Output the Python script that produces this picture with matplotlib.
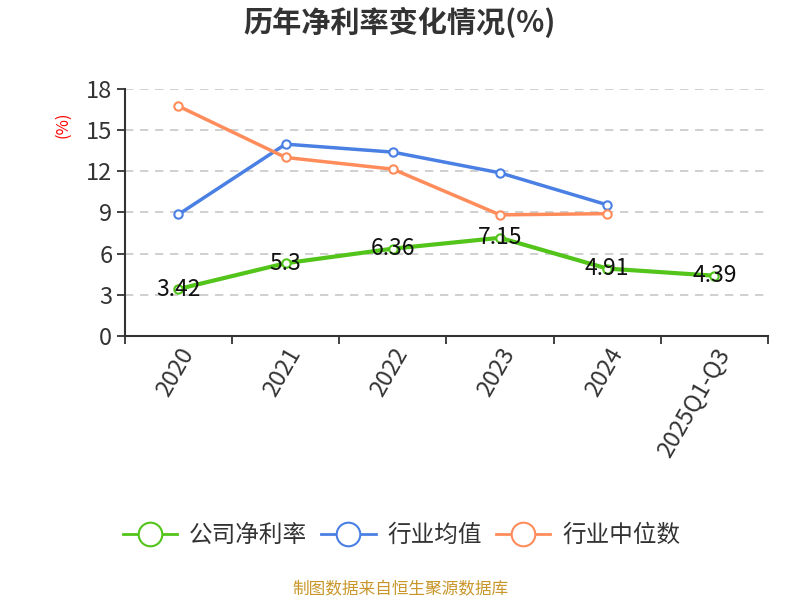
import numpy as np
import matplotlib
matplotlib.use('Agg')
import matplotlib.pyplot as plt
from matplotlib.lines import Line2D

plt.rcParams['font.family'] = ['Noto Sans CJK SC', 'DejaVu Sans']

years = ['2020', '2021', '2022', '2023', '2024', '2025Q1-Q3']
company = [3.42, 5.3, 6.36, 7.15, 4.91, 4.39]
ind_mean = [8.85, 13.97, 13.39, 11.88, 9.55]
ind_median = [16.74, 13.0, 12.15, 8.82, 8.91]

green = '#52c41a'
blue = '#4a80e3'
orange = '#ff8c5a'

fig = plt.figure(figsize=(8, 6), dpi=100)
ax = fig.add_axes([0.156, 0.44, 0.804, 0.412])

x = np.arange(len(years))
mk = dict(marker='o', markersize=6, markerfacecolor='white', markeredgewidth=1.5)
ax.plot(x[:len(ind_mean)], ind_mean, color=blue, lw=2.5, markeredgecolor=blue, **mk, zorder=3)
ax.plot(x[:len(ind_median)], ind_median, color=orange, lw=2.5, markeredgecolor=orange, **mk, zorder=3)
ax.plot(x, company, color=green, lw=3, markeredgecolor=green, **mk, zorder=4)

for xi, v in zip(x, company):
    ax.text(xi, v, f'{v:g}', ha='center', va='center', fontsize=16.5, color='#111111', zorder=5)

ax.set_xlim(-0.5, len(years) - 0.5)
ax.set_ylim(0, 18)
ax.set_yticks(np.arange(0, 19, 3))
ax.yaxis.grid(True, linestyle=(0, (5, 4)), color='#c8c8c8', lw=1.2)
ax.set_axisbelow(True)

ax.set_xticks(x)
ax.set_xticklabels(years, rotation=60, ha='right', rotation_mode='anchor', fontsize=17, color='#333333')
ax.set_xticks(np.arange(-0.5, len(years), 1), minor=True)
ax.tick_params(axis='x', which='major', length=0, pad=6)
ax.tick_params(axis='x', which='minor', length=6, width=1.3, color='#333333')
ax.tick_params(axis='y', length=6, width=1.3, color='#333333', labelsize=17, labelcolor='#333333', pad=3)

for s in ['top', 'right']:
    ax.spines[s].set_visible(False)
for s in ['left', 'bottom']:
    ax.spines[s].set_color('#333333')
    ax.spines[s].set_linewidth(1.5)

fig.text(0.078, 0.792, '(%)', rotation=90, color='red', fontsize=12, ha='center', va='center')
fig.text(0.5, 0.962, '历年净利率变化情况(%)', ha='center', va='center', fontsize=21, fontweight='bold', color='#333333')

handles = [
    Line2D([], [], color=c, lw=2, marker='o', markersize=17, markerfacecolor='white', markeredgewidth=1.5)
    for c in (green, blue, orange)
]
leg = fig.legend(handles, ['公司净利率', '行业均值', '行业中位数'], loc='center', bbox_to_anchor=(0.502, 0.107),
                 ncol=3, frameon=False, fontsize=17, handlelength=2.3, handletextpad=0.5, columnspacing=0.6)
for t in leg.get_texts():
    t.set_color('#333333')

fig.text(0.5, 0.017, '制图数据来自恒生聚源数据库', ha='center', va='center', fontsize=12, color='#c8962a')

fig.savefig('out.png', dpi=100)
